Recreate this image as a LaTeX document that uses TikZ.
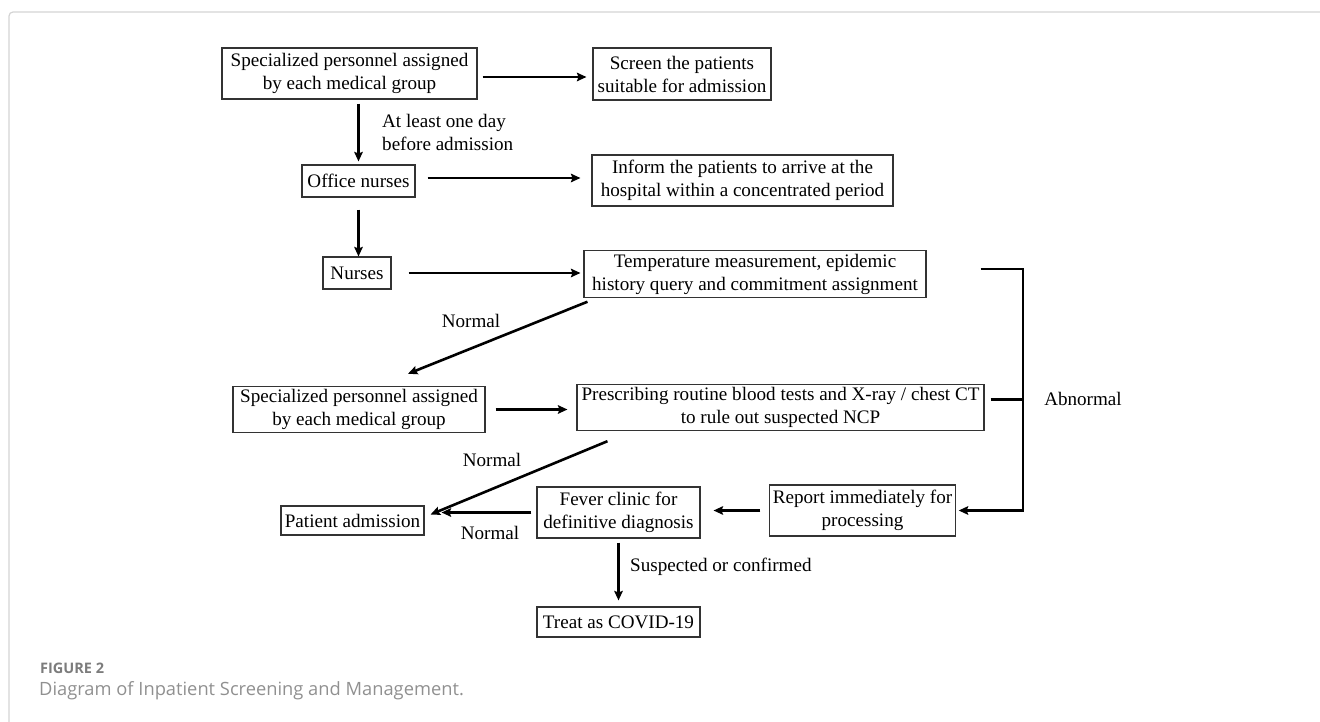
\documentclass[tikz,border=0pt]{standalone}
\usepackage{fontspec}
\setmainfont{Liberation Serif}
\newfontfamily\captionsans{Open Sans}
\usepackage{xcolor}
\usepackage{tikz}
\usetikzlibrary{positioning,arrows.meta}
\newcommand{\diagfont}{\fontsize{19.1}{23}\selectfont}
\definecolor{framegray}{HTML}{D4D4D4}
\definecolor{captiongray}{HTML}{7C7C7C}
\tikzset{
  stage/.style={rectangle, draw=black!80, line width=1.1pt, align=center, inner sep=3pt, font=\diagfont},
  arrow/.style={line width=2.6pt,->,>={Stealth[length=9.5pt,width=8.5pt,inset=1.5pt]}},
  link/.style={line width=2.6pt},
  note/.style={font=\diagfont, align=left, inner sep=0pt}
}

\begin{document}
\begin{tikzpicture}[x=1pt,y=-1pt]
  \useasboundingbox (0,0) rectangle (1320,722);
  % Frame
  \draw[framegray, line width=1.2pt, rounded corners=4pt] (9,722) -- (9,12) -- (1320,12);

  % Nodes
  \node (spec1) [stage, minimum width=255pt, minimum height=51pt] at (349.5,73.5) {Specialized personnel assigned\\by each medical group};
  \node (screen) [stage, minimum width=178pt, minimum height=52pt] at (682,74) {Screen the patients\\suitable for admission};
  \node (office) [stage, minimum width=113pt, minimum height=32pt] at (358.5,181) {Office nurses};
  \node (inform) [stage, minimum width=301pt, minimum height=51pt] at (742.5,180.5) {Inform the patients to arrive at the\\hospital within a concentrated period};
  \node (nurses) [stage, minimum width=68pt, minimum height=32pt] at (357,273) {Nurses};
  \node (temp) [stage, minimum width=342pt, minimum height=44pt] at (755,274) {Temperature measurement, epidemic\\history query and commitment assignment};
  \node (spec2) [stage, minimum width=252pt, minimum height=45pt] at (359,409.5) {Specialized personnel assigned\\by each medical group};
  \node (presc) [stage, minimum width=407pt, minimum height=45pt] at (780.5,407.5) {Prescribing routine blood tests and X-ray / chest CT\\to rule out suspected NCP};
  \node (patient) [stage, minimum width=143pt, minimum height=29pt] at (352.5,520.5) {Patient admission};
  \node (fever) [stage, minimum width=163pt, minimum height=51pt] at (618.5,512.5) {Fever clinic for\\definitive diagnosis};
  \node (report) [stage, minimum width=185pt, minimum height=51pt] at (862.5,510.5) {Report immediately for\\processing};
  \node (treat) [stage, minimum width=163pt, minimum height=30pt] at (618.5,622) {Treat as COVID-19};
  \coordinate (abnbend) at (1023,269);

  % Arrows
  \draw [arrow, shorten <=5pt, shorten >=6pt] ([yshift=-3.5pt]spec1.east) -- ([yshift=-3.5pt]spec1.east -| screen.west);
  \draw [arrow, shorten <=4pt, shorten >=3pt] (spec1.south -| office.north) -- (office.north);
  \draw [arrow, shorten <=12pt, shorten >=11pt] ([yshift=3pt]office.east) -- ([yshift=3pt]office.east -| inform.west);
  \draw [arrow, shorten <=12pt] (office.south) -- (office.south |- nurses.north);
  \draw [arrow, shorten <=17pt, shorten >=3pt] (nurses.east) -- (nurses.east -| temp.west);
  \draw [arrow] ([shift={(4,4)}]temp.south west) -- ([shift={(49,-12)}]spec2.north);
  \draw [arrow, shorten <=10pt, shorten >=9pt] (spec2.east) -- (spec2.east -| presc.west);
  \draw [arrow] ([shift={(31,10)}]presc.south west) -- ([shift={(6,-6)}]patient.east);
  \draw [arrow, shorten <=5pt, shorten >=17pt] (fever.west) -- (fever.west -| patient.east);
  \draw [arrow, shorten <=9pt, shorten >=13pt] (report.west) -- (report.west -| fever.east);
  \draw [arrow, shorten <=4pt, shorten >=6pt] (fever.south) -- (treat.north);
  \draw [arrow, shorten >=3pt] ([shift={(54,-5)}]temp.east) -- (abnbend) -- (abnbend |- report.east) -- (report.east);
  \draw [link, shorten <=6pt] ([yshift=8pt]presc.east) -- ([yshift=8pt]presc.east -| abnbend);

  % Annotations
  \node (daynote) [note, anchor=west] at (382,132) {At least one day\\before admission};
  \node (normA) [note] at (471,321) {Normal};
  \node (normB) [note] at (492,460) {Normal};
  \node (normC) [note] at (490,533) {Normal};
  \node (abnnote) [note] at (1083,399) {Abnormal};
  \node (suspnote) [note, anchor=west] at (630,567) {Suspected or confirmed};

  % Caption
  \node (figtag) [anchor=west, inner sep=0pt, text=captiongray, font=\captionsans\bfseries\fontsize{14.5}{17}\selectfont] at (40,668) {FIGURE 2};
  \node (figtitle) [anchor=west, inner sep=0pt, text=captiongray!85, font=\captionsans\fontsize{18.3}{21}\selectfont] at (39,691) {Diagram of Inpatient Screening and Management.};
\end{tikzpicture}
\end{document}
